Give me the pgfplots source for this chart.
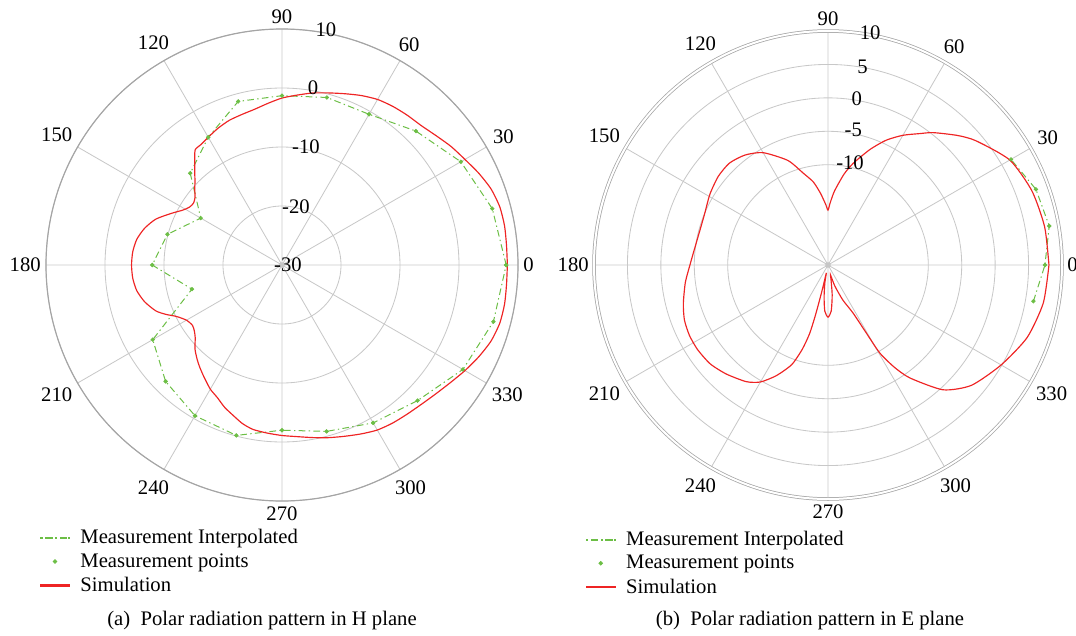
\documentclass[border=0pt]{standalone}
\usepackage{fontspec}
\setmainfont{Liberation Serif}
\usepackage{pgfplots}
\usepackage{pgfplotstable}
\pgfplotsset{compat=1.18}
\usepgfplotslibrary{polar}
\definecolor{simred}{RGB}{238,36,36}
\definecolor{measgreen}{RGB}{108,190,69}
\definecolor{gridgray}{RGB}{200,200,200}
\definecolor{rimgray}{RGB}{165,165,165}
\newcommand{\lblfont}{\fontsize{12.4}{14}\selectfont}
\pgfplotsset{
  mypolar/.style={
    anchor=center, scale only axis, clip=false,
    xmin=0, xmax=360,
    xtick={0,30,...,330},
    xticklabel={\pgfmathprintnumber{\tick}},
    /pgf/number format/assume math mode=true,
    yticklabels={},
    grid=major,
    major grid style={draw=gridgray, line width=0.5pt},
    tick style={draw=none},
    ticklabel style={font=\lblfont},
    xticklabel style={inner sep=3pt},
    separate axis lines,
    y axis line style={draw=none},
    legend style={draw=none, fill=none, font=\lblfont, anchor=north west,
      cells={anchor=west}, row sep=0.4pt, column sep=4.5pt, inner sep=0pt},
    legend cell align=left,
  },
  measline/.style={color=measgreen, line width=0.6pt, dash pattern=on 4pt off 2pt on 0.8pt off 2pt, mark=none},
  measpts/.style={only marks, mark=*, mark size=1.1pt, color=measgreen, mark options={fill=measgreen, draw=measgreen, solid}},
  simline/.style={color=simred, line width=0.7pt, mark=none, solid},
  leg line/.style={legend image code/.code={
      \fill[measgreen] (0pt,-0.3pt) rectangle (0.8pt,0.3pt);
      \fill[measgreen] (2.8pt,-0.3pt) rectangle (6.8pt,0.3pt);
      \fill[measgreen] (8.8pt,-0.3pt) rectangle (9.6pt,0.3pt);
      \fill[measgreen] (11.6pt,-0.3pt) rectangle (15.6pt,0.3pt);
      \fill[measgreen] (16.6pt,-0.3pt) rectangle (17.1pt,0.3pt);}},
  leg pts/.style={legend image code/.code={\fill[measgreen] (0.3cm,0cm) circle (1.1pt);}},
  leg sim/.style={legend image code/.code={\fill[simred] (0cm,-0.33pt) rectangle (0.6cm,0.33pt);}},
}
% H plane simulation (angle, dB)
\pgfplotstableread{
a r
0 8.2
5 8.2
10 8.3
15 8.2
20 7.7
25 6.8
30 5.8
35 5.0
40 4.1
45 3.4
50 3.1
55 2.8
60 2.4
65 1.7
70 0.9
75 0.2
80 -0.4
85 -1.1
90 -1.7
95 -2.5
100 -3.2
105 -3.6
110 -3.9
115 -4.4
120 -5.0
124 -5.4
127 -5.55
130 -7.0
133 -8.3
136 -9.5
139 -10.4
142 -11.3
145 -11.7
148 -11.5
151 -10.8
155 -9.3
160 -7.25
165 -5.9
170 -5.0
175 -4.6
180 -4.5
185 -4.6
190 -5.0
195 -5.9
200 -7.25
203 -8.6
206 -10.1
210 -11.3
214 -11.7
217 -11.4
220 -10.8
224 -9.5
228 -8.5
231 -7.8
235 -6.9
240 -5.7
244 -5.0
248 -4.0
252 -3.2
256 -2.3
260 -1.7
265 -1.4
270 -1.1
275 -0.8
280 -0.3
285 0.3
290 0.9
295 1.6
300 2.3
305 2.7
310 3.0
315 3.4
320 4.0
325 4.8
330 5.8
335 6.8
340 7.7
345 8.2
350 8.3
355 8.2
360 8.2
}\hsim
% H plane measurement
\pgfplotstableread{
a r
0 8.0
15 6.9
30 5.0
45 2.1
60 -0.5
75 -0.6
90 -1.3
105 -1.3
120 -5.0
135 -8.0
150 -14.1
165 -9.9
180 -8.0
195 -14.2
210 -4.7
225 -2.1
240 -0.5
255 -0.1
270 -2.0
285 -0.8
300 0.9
315 2.5
330 5.4
345 7.1
360 8.0
}\hmeas
% E plane simulation
\pgfplotstableread{
a r
0 8.05
10 7.9
20 7.45
30 6.4
40 3.9
45 2.4
51.5 0.3
55 -1.0
60 -2.6
65 -4.4
70 -6.6
76 -9.3
80 -11.2
85 -13.9
88 -15.7
90 -16.8
92 -16.0
96 -14.2
100 -12.4
105 -10.8
111 -8.25
120 -5.6
127 -4.4
134 -3.8
141 -3.9
149 -4.4
157 -5.0
165 -5.15
172 -4.95
180 -4.35
187 -3.5
195 -2.6
201 -2.0
207 -1.75
213 -1.75
220 -2.0
227 -2.7
235 -3.7
240 -4.8
245 -6.75
250 -9.15
253 -11.8
255 -14.4
256 -17.5
257 -21.3
258 -23.8
260 -22.3
263 -20.2
266 -18.1
270 -17.2
274 -18.1
278 -20.5
282 -22.9
284 -23.5
288 -21.7
293 -19.3
297.6 -16.85
299.5 -13.0
300.5 -9.7
303 -6.75
306 -4.1
312.7 0.4
320 3.0
330 4.9
340 6.7
350 7.7
360 8.05
}\esim
% E plane measurement
\pgfplotstableread{
a r
350 6.2
360 7.45
370 8.6
380 8.1
390 6.6
}\emeas
\begin{document}
\begin{tikzpicture}
\path[use as bounding box] (0,0) rectangle (645.6pt,381pt);
% ---------- (a) H plane  (radius = dB + 30)
\begin{polaraxis}[mypolar,
  at={(169.2pt,222pt)},
  width=283.2pt, height=283.2pt,
  ymin=0, ymax=40, ytick={0,10,20,30,40},
  x axis line style={draw=rimgray, line width=0.7pt},
  legend style={at={(-0.0125,-0.052)}},
]
\addlegendimage{leg line}
\addlegendentry{Measurement Interpolated}
\addlegendimage{leg pts}
\addlegendentry{Measurement points}
\addlegendimage{leg sim}
\addlegendentry{Simulation}
\addplot[measline, forget plot] table[x=a,y expr=\thisrow{r}+30] {\hmeas};
\addplot[measpts, forget plot] table[x=a,y expr=\thisrow{r}+30] {\hmeas};
\addplot[simline, smooth, tension=0.4, forget plot] table[x=a,y expr=\thisrow{r}+30] {\hsim};
\fill[gray!45] (axis cs:0,0) circle (1.6pt);
\node[font=\lblfont] at (axis cs:79.4,40.5) {10};
\node[font=\lblfont] at (axis cs:80.1,30.5) {0};
\node[font=\lblfont] at (axis cs:78.5,20.4) {-10};
\node[font=\lblfont] at (axis cs:76.4,10.1) {-20};
\node[font=\lblfont] at (axis cs:0,1) {-30};
\end{polaraxis}
% ---------- (b) E plane  (radius = dB + 25)
\begin{polaraxis}[mypolar,
  at={(496.8pt,222pt)},
  width=280.8pt, height=280.8pt,
  ymin=0, ymax=35, ytick={15,20,25,30,35},
  x axis line style={draw=rimgray, line width=0.45pt, double=white, double distance=1.2pt},
  legend style={at={(-0.0175,-0.0605)}},
]
\addlegendimage{leg line}
\addlegendentry{Measurement Interpolated}
\addlegendimage{leg pts}
\addlegendentry{Measurement points}
\addlegendimage{leg sim}
\addlegendentry{Simulation}
\addplot[measline, forget plot] table[x=a,y expr=\thisrow{r}+25] {\emeas};
\addplot[measpts, forget plot] table[x=a,y expr=\thisrow{r}+25] {\emeas};
\addplot[simline, smooth, tension=0.4, forget plot] table[x=a,y expr=\thisrow{r}+25] {\esim};
\fill[gray!45] (axis cs:0,0) circle (1.6pt);
\node[font=\lblfont] at (axis cs:79.7,35.3) {10};
\node[font=\lblfont] at (axis cs:80.1,30.1) {5};
\node[font=\lblfont] at (axis cs:80.2,25.3) {0};
\node[font=\lblfont] at (axis cs:79.4,20.55) {-5};
\node[font=\lblfont] at (axis cs:77.8,15.6) {-10};
\end{polaraxis}
\node[font=\lblfont] at (157.2pt,8.4pt) {(a)\enspace Polar radiation pattern in H plane};
\node[font=\lblfont] at (486pt,8.4pt) {(b)\enspace Polar radiation pattern in E plane};
\end{tikzpicture}
\end{document}
